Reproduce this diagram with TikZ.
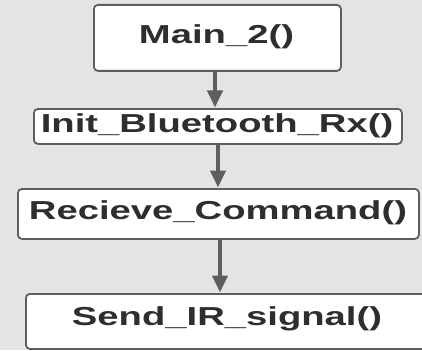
\documentclass[tikz,border=0pt]{standalone}
\usepackage{fontspec}
\usepackage{graphicx}
\setmainfont{Liberation Sans}
\usetikzlibrary{arrows.meta}
\definecolor{bggrey}{HTML}{E4E4E4}
\definecolor{edgegrey}{HTML}{5E5E5E}
\definecolor{inkgrey}{HTML}{2E2E2E}
\newcommand{\boxtext}[1]{\scalebox{1.47}[1]{\fontsize{26}{28}\selectfont\bfseries #1}}
\tikzset{
  stepbox/.style={draw=edgegrey, line width=1.8pt, fill=white, rounded corners=4pt,
    inner sep=0pt, anchor=north west},
  steplabel/.style={text=inkgrey, inner sep=0pt},
  flow/.style={draw=edgegrey, line width=4pt,
    -{Triangle[width=15pt,length=17pt]}, shorten >=0.5pt}
}
\begin{document}
\begin{tikzpicture}[x=1pt,y=-1pt]
  \fill[bggrey] (0,0) rectangle (422,350);
  \useasboundingbox (0,0) rectangle (422,350);
  % boxes, sized by their corners, with their labels
  \node[stepbox, minimum width=247pt, minimum height=66pt] (main) at (93,4) {};
  \node[steplabel] (mainlbl) at (216.5,37) {\boxtext{Main\_2()}};
  \node[stepbox, minimum width=368pt, minimum height=35pt] (init) at (33,108) {};
  \node[steplabel] (initlbl) at (217,125.5) {\boxtext{Init\_Bluetooth\_Rx()}};
  \node[stepbox, minimum width=401pt, minimum height=50pt] (recv) at (17,188) {};
  \node[steplabel] (recvlbl) at (218,213) {\boxtext{Recieve\_Command()}};
  \node[stepbox, minimum width=404pt, minimum height=55pt] (send) at (25,293) {};
  \node[steplabel] (sendlbl) at (227,319) {\boxtext{Send\_IR\_signal()}};
  % connector lines
  \coordinate (x1) at (215,0);
  \coordinate (x2) at (218,0);
  \coordinate (x3) at (220,0);
  \draw[flow] (main.south -| x1) -- (init.north -| x1);
  \draw[flow] (init.south -| x2) -- (recv.north -| x2);
  \draw[flow] (recv.south -| x3) -- (send.north -| x3);
\end{tikzpicture}
\end{document}
